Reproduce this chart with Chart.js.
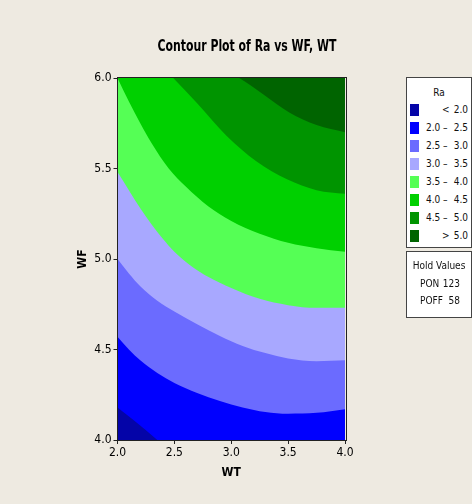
<!DOCTYPE html>
<html>
<head>
<meta charset="utf-8">
<script src="https://cdn.jsdelivr.net/npm/chart.js@4.4.1/dist/chart.umd.min.js"></script>
<style>
  html, body { margin: 0; padding: 0; background: #EEEAE1; }
  #wrap { position: relative; width: 472px; height: 504px; overflow: hidden; background: #EEEAE1; }
  canvas { position: absolute; left: 0; top: 0; }
  #title {
    position: absolute; left: 247px; top: 45px; white-space: nowrap;
    font: bold 16px "DejaVu Sans Condensed", "DejaVu Sans", sans-serif; color: #000;
    transform-origin: center center;
  }
  .box { position: absolute; background: #fff; border: 1px solid #444; box-sizing: border-box; }
  .txt { position: absolute; white-space: nowrap; font: 10px "Liberation Sans Narrow", "DejaVu Sans Condensed", sans-serif; color: #111; line-height: 12px; }
  .sw { position: absolute; width: 9px; height: 12px; }
</style>
</head>
<body>
<div id="wrap">
  <canvas id="c" width="472" height="504"></canvas>
  <div id="title">Contour Plot of Ra vs WF, WT</div>
  <div id="legend" class="box" style="left:406px; top:77px; width:66px; height:171px;"></div>
  <div id="hold" class="box" style="left:406px; top:251px; width:66px; height:67px;"></div>
</div>
<script>
// Axis ticks
const wtTicks = [2.0, 2.5, 3.0, 3.5, 4.0];
const wfTicks = [4.0, 4.5, 5.0, 5.5, 6.0];

// Ra contour levels and band colours (lowest band first)
const raLevels = [2.0, 2.5, 3.0, 3.5, 4.0, 4.5, 5.0];
const bandColors = ['#0404A8', '#0000FF', '#6B6BFF', '#A8A8FF', '#55FF55', '#00D000', '#009400', '#006400'];

// Hold values
const holdNames = ['PON', 'POFF'];
const holdValues = [123, 58];

// Contour lines: WT positions and the WF value where Ra equals each level
// (lines that leave the plotted window run a little past its edge)
const c20WT = [2.00, 2.14, 2.35, 2.50, 4.00];
const c20WF = [4.18, 4.11, 4.00, 3.92, 3.90];

const c25WT = [2.00, 2.10, 2.20, 2.35, 2.50, 2.70, 2.90, 3.10, 3.30, 3.50, 3.75, 4.00];
const c25WF = [4.57, 4.50, 4.44, 4.37, 4.315, 4.26, 4.215, 4.18, 4.155, 4.145, 4.15, 4.17];

const c30WT = [2.00, 2.10, 2.20, 2.35, 2.50, 2.70, 2.90, 3.10, 3.30, 3.50, 3.75, 4.00];
const c30WF = [5.00, 4.92, 4.85, 4.77, 4.71, 4.64, 4.575, 4.52, 4.48, 4.45, 4.435, 4.44];

const c35WT = [2.00, 2.10, 2.20, 2.30, 2.40, 2.50, 2.65, 2.80, 3.00, 3.25, 3.50, 3.75, 4.00];
const c35WF = [5.48, 5.38, 5.28, 5.19, 5.11, 5.04, 4.96, 4.90, 4.84, 4.78, 4.745, 4.73, 4.73];

const c40WT = [2.00, 2.10, 2.20, 2.30, 2.45, 2.60, 2.80, 3.00, 3.25, 3.50, 3.75, 4.00];
const c40WF = [6.00, 5.87, 5.75, 5.64, 5.50, 5.40, 5.29, 5.21, 5.14, 5.09, 5.06, 5.04];

const c45WT = [2.34, 2.49, 2.70, 2.96, 3.22, 3.49, 3.75, 4.00];
const c45WF = [6.10, 6.00, 5.86, 5.68, 5.54, 5.44, 5.38, 5.36];

const c50WT = [2.85, 3.07, 3.28, 3.51, 3.75, 4.00];
const c50WF = [6.07, 6.00, 5.91, 5.81, 5.74, 5.70];

// Bottom edge of the window (the lowest band fills everything above it)
const baseWT = [2.0, 4.0];
const baseWF = [4.0, 4.0];

const lines = [
  [baseWT, baseWF], [c20WT, c20WF], [c25WT, c25WF], [c30WT, c30WF],
  [c35WT, c35WF], [c40WT, c40WF], [c45WT, c45WF], [c50WT, c50WF]
];

const pts = (xs, ys) => xs.map((x, i) => ({ x: x, y: ys[i] }));

// Each line fills the area above it with the band that starts there;
// later (higher) bands are painted on top of earlier ones.
const datasets = lines.map((l, i) => ({
  data: pts(l[0], l[1]),
  fill: 'end',
  backgroundColor: bandColors[i],
  borderColor: 'rgba(0,0,0,0)',
  borderWidth: 1,
  pointRadius: 0,
  cubicInterpolationMode: 'monotone',
  order: lines.length - i
}));

const tickFont = { family: '"DejaVu Sans Condensed", "DejaVu Sans", sans-serif', size: 12 };
const titleFont = { family: '"DejaVu Sans Condensed", "DejaVu Sans", sans-serif', size: 12, weight: 'bold' };

const frame = {
  id: 'frame',
  afterDatasetsDraw(chart) {
    const a = chart.chartArea, ctx = chart.ctx;
    ctx.save();
    ctx.strokeStyle = '#222';
    ctx.lineWidth = 1;
    ctx.strokeRect(Math.round(a.left) - 0.5, Math.round(a.top) - 0.5,
                   Math.round(a.right - a.left) + 1, Math.round(a.bottom - a.top) + 1);
    ctx.restore();
  }
};

new Chart(document.getElementById('c'), {
  type: 'line',
  data: { datasets: datasets },
  plugins: [frame],
  options: {
    responsive: false,
    animation: false,
    events: [],
    layout: { padding: { left: 75, top: 78, right: 127, bottom: 20 } },
    plugins: { legend: { display: false }, tooltip: { enabled: false }, title: { display: false } },
    scales: {
      x: {
        type: 'linear', position: 'bottom', min: 2, max: 4,
        afterBuildTicks: s => { s.ticks = wtTicks.map(v => ({ value: v })); },
        afterFit: s => { s.height = 44; },
        ticks: { callback: v => v.toFixed(1), font: tickFont, color: '#000', padding: 2, maxRotation: 0, autoSkip: false },
        grid: { drawOnChartArea: false, drawTicks: true, tickLength: 4, color: '#222' },
        border: { display: true, color: '#222' },
        title: { display: true, text: 'WT', font: titleFont, color: '#000', padding: { top: 0, bottom: 4 } }
      },
      y: {
        type: 'linear', position: 'left', min: 4, max: 6,
        afterBuildTicks: s => { s.ticks = wfTicks.map(v => ({ value: v })); },
        afterFit: s => { s.width = 42.5; },
        ticks: { callback: v => v.toFixed(1), font: tickFont, color: '#000', padding: 2, autoSkip: false },
        grid: { drawOnChartArea: false, drawTicks: true, tickLength: 4, color: '#222' },
        border: { display: true, color: '#222' },
        title: { display: true, text: 'WF', font: titleFont, color: '#000', padding: { top: 1, bottom: 0 } }
      }
    }
  }
});

// Title, squeezed to the chart's narrow heading style
const t = document.getElementById('title');
const tw = t.getBoundingClientRect().width;
t.style.transform = 'translate(-50%, -50%) scaleX(' + (179 / tw) + ')';

// Legend box
const fmt = v => v.toFixed(1);
const leg = document.getElementById('legend');
function addText(parent, text, css) {
  const d = document.createElement('div');
  d.className = 'txt';
  d.textContent = text;
  Object.assign(d.style, css);
  parent.appendChild(d);
  return d;
}
addText(leg, 'Ra', { left: '0px', width: '64px', textAlign: 'center', top: '9px' });
bandColors.forEach((col, i) => {
  const top = 26 + 18 * i;
  const sw = document.createElement('div');
  sw.className = 'sw';
  sw.style.left = '3px';
  sw.style.top = top + 'px';
  sw.style.background = col;
  leg.appendChild(sw);
  if (i === 0) {
    addText(leg, '<', { left: '35px', top: top + 'px' });
    addText(leg, fmt(raLevels[0]), { right: '3px', top: top + 'px' });
  } else if (i === bandColors.length - 1) {
    addText(leg, '>', { left: '35px', top: top + 'px' });
    addText(leg, fmt(raLevels[raLevels.length - 1]), { right: '3px', top: top + 'px' });
  } else {
    addText(leg, fmt(raLevels[i - 1]), { left: '19px', top: top + 'px' });
    addText(leg, '\u2013', { left: '36px', top: top + 'px' });
    addText(leg, fmt(raLevels[i]), { right: '3px', top: top + 'px' });
  }
});

// Hold values box
const hold = document.getElementById('hold');
addText(hold, 'Hold Values', { left: '0px', width: '64px', textAlign: 'center', top: '8px' });
holdNames.forEach((n, i) => {
  addText(hold, n, { left: '13px', top: (26 + 17 * i) + 'px' });
  addText(hold, String(holdValues[i]), { right: '11px', top: (26 + 17 * i) + 'px' });
});
</script>
</body>
</html>
